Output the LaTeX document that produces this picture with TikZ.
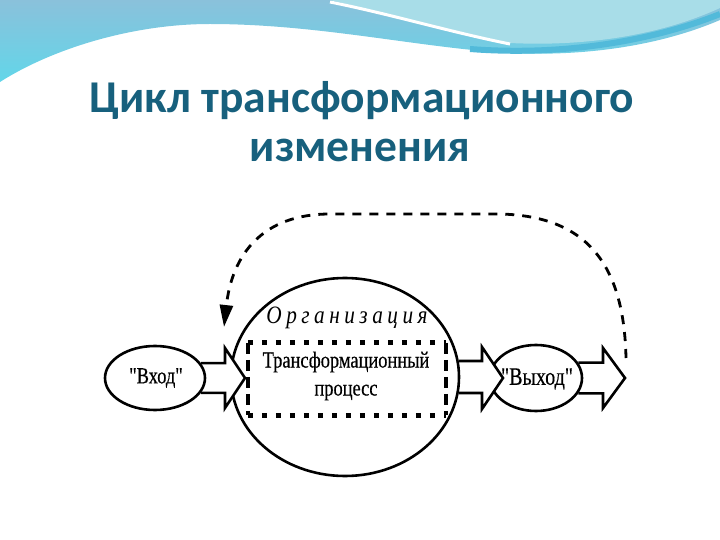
\documentclass[tikz,border=0pt]{standalone}
\usepackage{fontspec}
\setmainfont{Liberation Serif}
\newfontfamily\titlefont{Carlito}
\newfontfamily\narrowfont[FakeStretch=0.8,FakeBold=0.4]{Liberation Serif}
\newfontfamily\spacedfont[FakeStretch=0.85,LetterSpace=18]{Liberation Serif}
\usepackage{xcolor}
\usepackage{tikz}
\usetikzlibrary{shapes.geometric, arrows.meta, positioning, calc}

\definecolor{titleblue}{HTML}{17607D}
\definecolor{skytop}{HTML}{8AC1DB}
\definecolor{skylight}{HTML}{A8DDE8}
\definecolor{cyanleft}{HTML}{62D6E9}
\definecolor{cyanband}{HTML}{52BADA}

\begin{document}
\begin{tikzpicture}[
    x=1pt, y=-1pt,
    title/.style = {font=\titlefont\bfseries\fontsize{45.5}{50}\selectfont, text=titleblue, inner sep=0pt},
    oval/.style = {ellipse, draw=black, line width=2.6pt, inner sep=0pt},
    label/.style = {font=\narrowfont\fontsize{23}{28}\selectfont, align=center, inner sep=0pt},
    procbox/.style = {rectangle, minimum width=198pt, minimum height=72pt, inner sep=0pt},
    dotrow/.style = {line width=5pt, dash pattern=on 5pt off 9pt},
    dashcol/.style = {line width=3.8pt, dash pattern=on 11pt off 6pt},
    blockarrow/.style = {draw=black, line width=2.6pt, line join=miter},
    feedback/.style = {line width=2.8pt, dash pattern=on 9pt off 8pt,
                       -{Triangle[length=22pt, width=13pt]}}
]
\useasboundingbox (0,0) rectangle (720,540);

% Header wave
\shade[top color=skytop, bottom color=cyanleft]
    (0,0) -- (720,0) -- (720,20) .. controls (650,50) and (570,56) .. (510,53)
    .. controls (420,48) and (320,24) .. (210,24)
    .. controls (130,24) and (50,50) .. (0,82) -- cycle;
\fill[skylight] (330,0) -- (720,0) -- (720,8) .. controls (650,40) and (570,46) .. (510,43)
    .. controls (450,30) and (380,12) .. (330,0) -- cycle;
\draw[white, line width=3pt] (330,2) .. controls (390,14) and (450,32) .. (510,44);
\draw[cyanband, line width=6pt] (470,49) .. controls (560,56) and (650,42) .. (720,14);

% Title
\node[title, anchor=base] (title1) at (362,113) {Цикл трансформационного};
\node[title, anchor=base] (title2) at (360,162) {изменения};

% Nodes
\node[oval, minimum width=100pt, minimum height=64pt] (vhod) at (155,378) {};
\node[label] (vhodtext) at (156,378) {"Вход"};
\node[oval, minimum width=228pt, minimum height=198pt] (org) at (345,377) {};
\node[font=\spacedfont\itshape\fontsize{25}{28}\selectfont, inner sep=0pt] (orgtext) at (347,318) {Организация};
\node[procbox] (proc) at (347,379) {};
\node[label] (proctext) at (346,376) {Трансформационный\\процесс};
\node[oval, minimum width=92pt, minimum height=66pt] (vyhod) at (536,378) {};
\node[label, font=\narrowfont\fontsize{25}{28}\selectfont] (vyhodtext) at (537,379) {"Выход"};

% Dashed process frame
\draw[dotrow] (proc.north west) -- (proc.north east);
\draw[dotrow] (proc.south west) -- (proc.south east);
\draw[dashcol] (proc.north west) -- (proc.south west);
\draw[dashcol] (proc.north east) -- (proc.south east);

% Feedback loop
\coordinate (fbstart) at (626,358);
\coordinate (fbend) at (224,327);
\draw[feedback] (fbstart) .. controls (624,262) and (585,216) .. (500,214)
    -- (330,214) .. controls (262,214) and (232,255) .. (fbend);

% Block arrows
\coordinate (tipA) at (245,378);
\coordinate (baseA) at (225,378);
\fill[white] ($(baseA)+(0,-30)$) -- (tipA) -- ($(baseA)+(0,30)$) -- cycle;
\draw[blockarrow] (vhod.18) -- (vhod.18 -| baseA) -- ($(baseA)+(0,-30)$) -- (tipA)
    -- ($(baseA)+(0,30)$) -- (vhod.-18 -| baseA) -- (vhod.-18);

\coordinate (tipB) at (503,378);
\coordinate (baseB) at (482,378);
\fill[white] ($(baseB)+(0,-31)$) -- (tipB) -- ($(baseB)+(0,31)$) -- cycle;
\draw[blockarrow] (org.8) -- (org.8 -| baseB) -- ($(baseB)+(0,-31)$) -- (tipB)
    -- ($(baseB)+(0,31)$) -- (org.-8 -| baseB) -- (org.-8);

\coordinate (tipC) at (625,378);
\coordinate (baseC) at (603,378);
\fill[white] ($(baseC)+(0,-30)$) -- (tipC) -- ($(baseC)+(0,30)$) -- cycle;
\draw[blockarrow] (vyhod.20) -- (vyhod.20 -| baseC) -- ($(baseC)+(0,-30)$) -- (tipC)
    -- ($(baseC)+(0,30)$) -- (vyhod.-20 -| baseC) -- (vyhod.-20);

\end{tikzpicture}
\end{document}
